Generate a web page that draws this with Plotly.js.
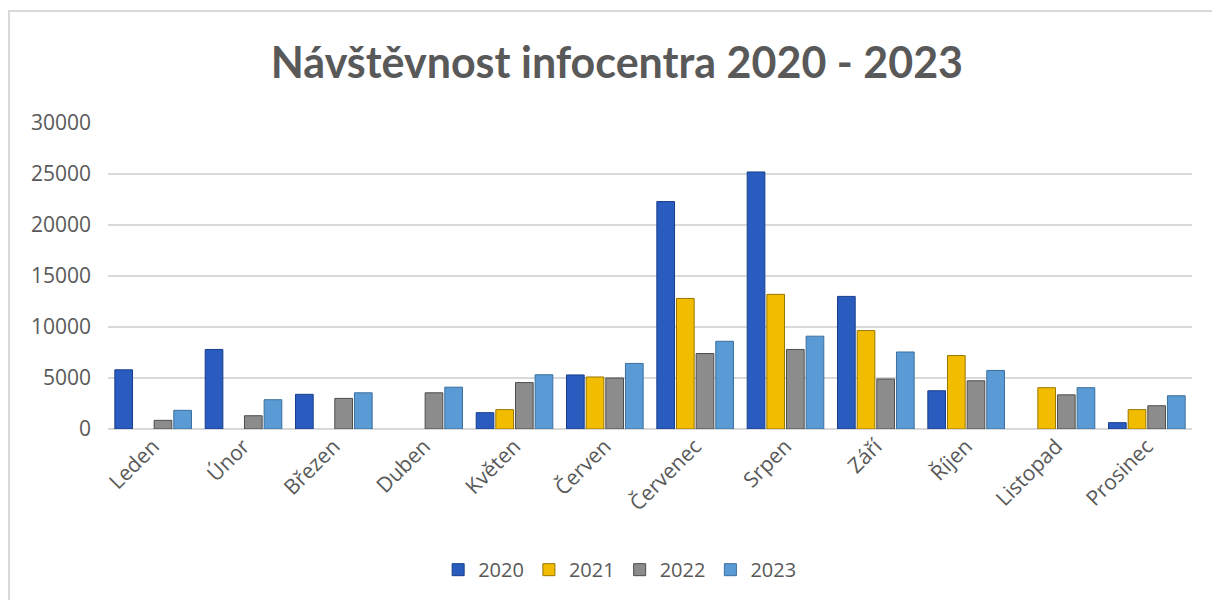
<!DOCTYPE html>
<html>
<head>
<meta charset="utf-8">
<script src="https://cdn.plot.ly/plotly-3.0.1.min.js"></script>
<style>
  html, body { margin: 0; padding: 0; background: #fff; }
  #wrap { position: relative; width: 1212px; height: 600px; overflow: hidden; }
  #frame { position: absolute; left: 8px; top: 10px; width: 1300px; height: 700px;
           border-left: 2px solid #d9d9d9; border-top: 2px solid #d9d9d9; }
  #chart { position: absolute; left: 0; top: 0; width: 1212px; height: 600px; }
</style>
</head>
<body>
<div id="wrap">
  <div id="frame"></div>
  <div id="chart"></div>
</div>
<script>
const months = ["Leden", "Únor", "Březen", "Duben", "Květen", "Červen",
                "Červenec", "Srpen", "Září", "Říjen", "Listopad", "Prosinec"];
const v2020 = [5800, 7800, 3400, null, 1600, 5300, 22300, 25200, 13000, 3750, null, 620];
const v2021 = [null, null, null, null, 1900, 5100, 12800, 13200, 9650, 7200, 4050, 1900];
const v2022 = [850, 1300, 3000, 3550, 4550, 5000, 7400, 7800, 4900, 4730, 3350, 2280];
const v2023 = [1830, 2870, 3550, 4100, 5320, 6430, 8600, 9100, 7550, 5740, 4050, 3260];
const yTicks = [0, 5000, 10000, 15000, 20000, 25000, 30000];

const series = [
  {name: "2020", y: v2020, color: "#2a5cc0", line: "#173d8a"},
  {name: "2021", y: v2021, color: "#f2bd00", line: "#9a7600"},
  {name: "2022", y: v2022, color: "#8c8c8c", line: "#4d4d4d"},
  {name: "2023", y: v2023, color: "#5b9bd5", line: "#3a6e9e"}
];

const traces = series.map(s => ({
  type: "bar",
  name: s.name,
  x: months,
  y: s.y,
  marker: {color: s.color, line: {color: s.line, width: 1}},
  hoverinfo: "x+y+name"
}));

const font = "'Open Sans', 'DejaVu Sans', sans-serif";

const layout = {
  width: 1212, height: 600,
  paper_bgcolor: "rgba(0,0,0,0)",
  plot_bgcolor: "rgba(0,0,0,0)",
  margin: {l: 108, r: 20, t: 123, b: 170},
  title: {
    text: "<b>Návštěvnost infocentra 2020 - 2023</b>",
    font: {family: "Lato, 'Open Sans', sans-serif", size: 43, color: "#595959"},
    x: 0.509, xanchor: "center", y: 0.895, yanchor: "middle"
  },
  barmode: "group",
  bargap: 0.13,
  bargroupgap: 0.1,
  xaxis: {
    type: "category",
    tickangle: -45,
    tickfont: {family: font, size: 21, color: "#595959"},
    showgrid: false, zeroline: false,
    showline: false, ticks: ""
  },
  yaxis: {
    range: [0, 30000],
    tickvals: yTicks,
    ticktext: yTicks.map(String),
    tickfont: {family: font, size: 21, color: "#595959"},
    ticklabelstandoff: 16,
    showgrid: true, gridcolor: "#d9d9d9", gridwidth: 2,
    zeroline: true, zerolinecolor: "#d9d9d9", zerolinewidth: 2,
    ticks: "", ticklen: 0, showline: false,
    automargin: false
  },
  legend: {
    orientation: "h",
    x: 0.472, xanchor: "center",
    y: -0.455, yanchor: "middle",
    font: {family: font, size: 20, color: "#595959"},
    itemwidth: 30,
    traceorder: "normal"
  },
  showlegend: true
};

Plotly.newPlot("chart", traces, layout, {displayModeBar: false, staticPlot: true});
</script>
</body>
</html>
